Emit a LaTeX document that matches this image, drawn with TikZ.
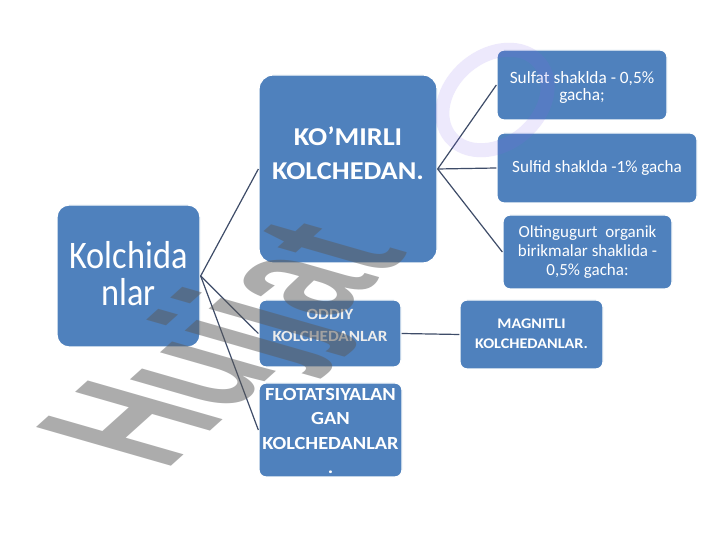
\documentclass[tikz,border=0pt]{standalone}
\usepackage{fontspec}
\setmainfont{Carlito}
\newfontfamily\widefont{Carlito}[FakeStretch=1.1]
\newfontfamily\narrowfont{Carlito}[FakeStretch=0.88]
\newfontfamily\wmfont{Liberation Sans}
\definecolor{boxblue}{RGB}{79,129,189}
\definecolor{linecol}{RGB}{62,76,104}
\definecolor{wmgray}{RGB}{90,90,90}
\definecolor{wmpurple}{RGB}{130,100,235}
\begin{document}
\begin{tikzpicture}[x=1pt,y=1pt,
  box/.style={draw=white, line width=1.3pt, fill=boxblue, rounded corners=#1, inner sep=0pt},
  box/.default=7pt,
  txt/.style={text=white, align=center, inner sep=0pt},
  conn/.style={draw=linecol, line width=1.2pt}]
\fill[white] (0,0) rectangle (720,540);
\useasboundingbox (0,0) rectangle (720,540);

% boxes
\node[box=12pt, minimum width=143pt, minimum height=142pt] (k) at (128.5,264) {};
\node[box=14pt, minimum width=178pt, minimum height=188pt] (kom) at (348,371) {};
\node[box, minimum width=170pt, minimum height=70pt] (sulfat) at (582,455) {};
\node[box, minimum width=200pt, minimum height=70pt] (sulfid) at (597,372) {};
\node[box, minimum width=169pt, minimum height=74pt] (olt) at (587.5,288) {};
\node[box, minimum width=142pt, minimum height=67pt] (oddiy) at (330,206.5) {};
\node[box, minimum width=143pt, minimum height=69pt] (magn) at (531.5,205.5) {};
\node[box, minimum width=143pt, minimum height=94pt] (flot) at (330.5,110) {};

% texts
\node[txt, font=\narrowfont\fontsize{39}{37}\selectfont] (kt) at (128.5,266.5) {Kolchida\\nlar};
\node[txt, font=\widefont\bfseries\fontsize{25.7}{34}\selectfont] (komt) at (348,386.5) {KO’MIRLI\\KOLCHEDAN.};
\node[txt, font=\fontsize{17.3}{17}\selectfont] (sulfatt) at (582,453) {Sulfat shaklda - 0,5\%\\gacha;};
\node[txt, font=\fontsize{17.1}{20}\selectfont] (sulfidt) at (597,372) {Sulfid shaklda -1\% gacha};
\node[txt, font=\fontsize{17}{19}\selectfont] (oltt) at (587.5,288) {Oltingugurt~ organik\\birikmalar shaklida -\\0,5\% gacha:};
\node[txt, font=\widefont\bfseries\fontsize{15.6}{22}\selectfont, text=white!85!gray] (oddiyt) at (330,215) {ODDIY\\KOLCHEDANLAR};
\node[txt, font=\widefont\bfseries\fontsize{14.7}{20}\selectfont] (magnt) at (531.5,206) {MAGNITLI\\KOLCHEDANLAR.};
\node[txt, font=\widefont\bfseries\fontsize{18.5}{24.5}\selectfont] (flott) at (330.5,109) {FLOTATSIYALAN\\GAN\\KOLCHEDANLAR\\.};

% connectors
\draw[conn] (k.east) -- (kom.west);
\draw[conn] (k.east) -- (oddiy.west);
\draw[conn] (k.east) -- (flot.west);
\draw[conn] (kom.east) -- (sulfat.west);
\draw[conn] (kom.east) -- (sulfid.west);
\draw[conn] (kom.east) -- (olt.west);
\draw[conn] (oddiy.east) -- (magn.west);

% watermark
\begin{scope}[shift={(165,68)}, cm={0.431,0.388,-0.961,0.276,(0,0)}]
\node[transform shape, anchor=base west, inner sep=0pt, text=wmgray, opacity=0.5, font=\wmfont\bfseries\fontsize{204}{204}\selectfont] (wm) at (0,0) {Hujjat};
\end{scope}
\draw[wmpurple, opacity=0.14, line width=14pt, rotate around={40:(495,440)}] (495,440) ellipse [x radius=58pt, y radius=44pt];
\end{tikzpicture}
\end{document}
